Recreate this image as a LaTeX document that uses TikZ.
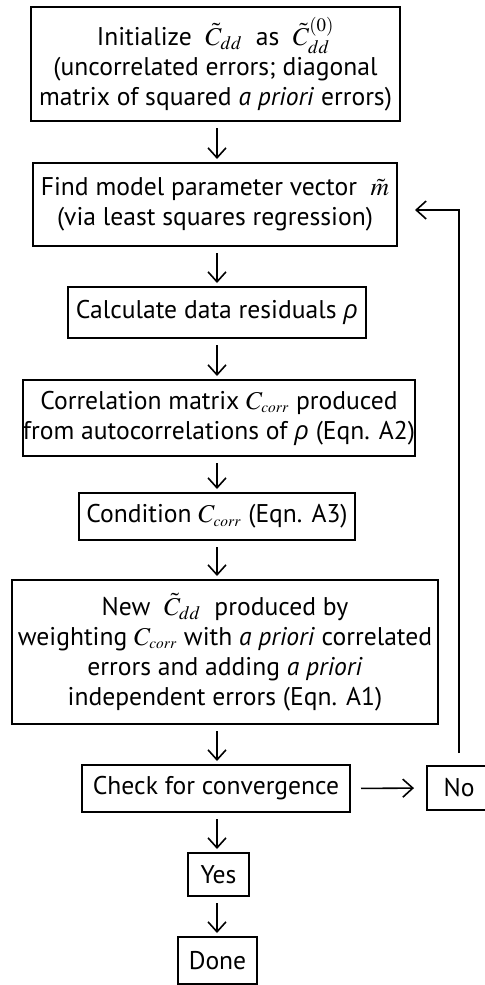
\documentclass[tikz,border=0pt]{standalone}
\usepackage{mathptmx}
\usepackage[no-math]{fontspec}
\setmainfont{PT Sans}
\newfontfamily\rhofont{Open Sans}
\usetikzlibrary{arrows.meta}

\newcommand{\rhoit}{{\rhofont\itshape ρ}}

\begin{document}
\begin{tikzpicture}[x=0.75pt, y=-0.75pt,
	box/.style={draw, line width=1.5pt, align=center, inner sep=0pt,
		font=\fontsize{19.2}{22.5}\selectfont},
	arr/.style={-{Straight Barb[length=7.5pt,width=13.5pt]}, line width=1.2pt,
		shorten <=4.5pt, shorten >=2.25pt}]
\useasboundingbox (0,0) rectangle (485,985);

% main column
\node[box, minimum width=276.75pt, minimum height=85.5pt] (init) at (215.5,64)
	{Initialize \ $\tilde{C}_{dd}$ \ as \ $\tilde{C}^{(0)}_{dd}$\\
	(uncorrelated errors; diagonal\\
	matrix of squared \textit{a priori} errors)};
\node[box, minimum width=273pt, minimum height=62.25pt] (find) at (215,204.5)
	{Find model parameter vector \ $\tilde{m}$\\
	(via least squares regression)};
\node[box, minimum width=223.5pt, minimum height=38.25pt] (resid) at (217,312.5)
	{Calculate data residuals \rhoit};
\node[box, minimum width=294pt, minimum height=57pt] (corr) at (219,418)
	{Correlation matrix $C_{\scriptscriptstyle corr}$ produced\\
	from autocorrelations of \rhoit\ (Eqn. A2)};
\node[box, minimum width=207pt, minimum height=35.25pt] (cond) at (217,516.5)
	{Condition $C_{\scriptscriptstyle corr}$ (Eqn. A3)};
\node[box, minimum width=319.5pt, minimum height=108pt] (new) at (225,652)
	{New \ $\tilde{C}_{dd}$ \ produced by\\
	weighting $C_{\scriptscriptstyle corr}$ with \textit{a priori} correlated\\
	errors and adding \textit{a priori}\\
	independent errors (Eqn. A1)};
\node[box, minimum width=201pt, minimum height=35.25pt] (check) at (216,788.5)
	{Check for convergence};
\node[box, minimum width=48pt, minimum height=33pt] (no) at (459,788) {No};
\node[box, minimum width=45.75pt, minimum height=32.25pt] (yes) at (218.5,874.5) {Yes};
\node[box, minimum width=59.25pt, minimum height=35.25pt] (done) at (217.5,960.5) {Done};

% arrows down
\draw[arr] (init.south -| 217,0) -- (find.north -| 217,0);
\draw[arr] (find.south -| 217,0) -- (resid.north -| 217,0);
\draw[arr] (resid.south -| 217,0) -- (corr.north -| 217,0);
\draw[arr] (corr.south -| 217,0) -- (cond.north -| 217,0);
\draw[arr] (cond.south -| 217,0) -- (new.north -| 217,0);
\draw[arr] (new.south -| 217,0) -- (check.north -| 217,0);
\draw[arr] (check.south -| 217,0) -- (yes.north -| 217,0);
\draw[arr] (yes.south -| 217,0) -- (done.north -| 217,0);

% loop back
\draw[arr, shorten <=7.5pt, shorten >=9pt] (check.east) -- (no.west);
\coordinate (back) at (415,210);
\draw[arr, shorten <=9pt, shorten >=0pt] (no.north) |- (back);
\end{tikzpicture}
\end{document}
